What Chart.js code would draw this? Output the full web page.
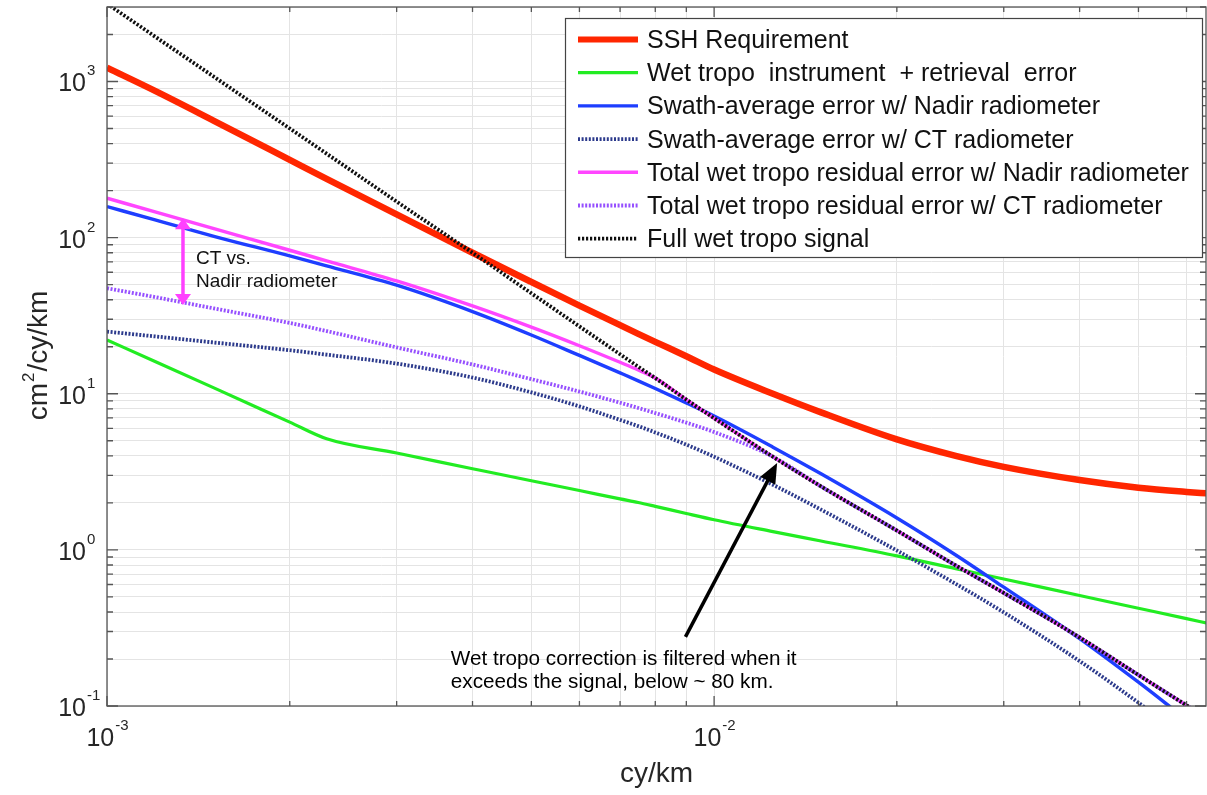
<!DOCTYPE html>
<html>
<head>
<meta charset="utf-8">
<title>Wet tropo error spectra</title>
<script src="https://cdn.jsdelivr.net/npm/chart.js@4.4.1/dist/chart.umd.min.js"></script>
<style>
  html, body { margin: 0; padding: 0; background: #fff; }
  #wrap { width: 1207px; height: 795px; }
</style>
</head>
<body>
<div id="wrap"><canvas id="spectra" width="1207" height="795"></canvas></div>
<script>
// wavenumber (cy/km) where each curve is sampled
const freq = [0.001, 0.0012, 0.0015, 0.002, 0.0023, 0.003, 0.004, 0.005, 0.006, 0.007, 0.0075,
  0.008, 0.009, 0.01, 0.0125, 0.015, 0.02, 0.025, 0.03, 0.04, 0.05, 0.06, 0.065];

// spectra in cm^2/cy/km
const sshRequirement = [1225, 870, 560, 315, 238, 141, 80, 52, 36.7, 27.5, 24.2,
  21.5, 17.4, 14.3, 10.0, 7.6, 5.1, 4.0, 3.4, 2.8, 2.5, 2.35, 2.3];
const wetInstrument = [22.1, 16.1, 10.9, 6.58, 5.15, 4.17, 3.31, 2.77, 2.40, 2.12, 2.01,
  1.90, 1.71, 1.56, 1.31, 1.14, 0.915, 0.758, 0.651, 0.51, 0.423, 0.363, 0.339];
const swathNadir = [158, 130, 102, 76.3, 65.9, 49.6, 33.6, 23.8, 17.6, 13.6, 12.1,
  10.8, 8.74, 7.2, 4.55, 3.07, 1.60, 0.927, 0.577, 0.27, 0.142, 0.082, 0.065];
const swathCT = [25.0, 23.3, 21.3, 19.0, 17.8, 15.6, 12.7, 10.2, 8.3, 6.8, 6.2,
  5.65, 4.72, 3.95, 2.61, 1.81, 0.99, 0.606, 0.398, 0.194, 0.105, 0.062, 0.049];
const totalNadir = [179, 146, 114, 83, 71, 52.8, 36.5, 26.7, 20.3, 15.9, 14.2,
  12.6, 9.18, 6.97, 3.95, 2.55, 1.33, 0.795, 0.53, 0.275, 0.158, 0.101, 0.083];
const totalCT = [47.4, 41.6, 35.2, 28.4, 25.2, 19.8, 15.4, 12.4, 10.33, 8.76, 8.11,
  7.52, 6.53, 5.69, 3.95, 2.55, 1.33, 0.795, 0.53, 0.275, 0.158, 0.101, 0.083];
const wetSignal = [3150, 1939, 1072, 500, 345, 170, 80, 44, 27, 17.9, 14.9,
  12.6, 9.18, 6.97, 3.95, 2.55, 1.33, 0.795, 0.53, 0.275, 0.158, 0.101, 0.083];

// decade tick labels (drawn as 10^exp)
const xDecades = [0.001, 0.01];
const xExponents = ['-3', '-2'];
const yDecades = [0.1, 1, 10, 100, 1000];
const yExponents = ['-1', '0', '1', '2', '3'];

const FONT = '"Liberation Sans", Arial, Helvetica, sans-serif';

function pts(vals) {
  return freq.map((f, i) => ({ x: f, y: vals[i] }));
}

// log ticks at 1..9 x 10^n, used for grid lines and tick marks
function logTicks(min, max) {
  const out = [];
  for (let e = Math.floor(Math.log10(min)); e <= Math.ceil(Math.log10(max)); e++) {
    for (let m = 1; m <= 9; m++) {
      const v = m * Math.pow(10, e);
      if (v >= min * 0.999 && v <= max * 1.001) out.push({ value: v, major: m === 1 });
    }
  }
  return out;
}

const series = [
  { label: 'SSH Requirement', data: sshRequirement, color: 'rgb(255,38,0)', width: 6.5, dash: [] },
  { label: 'Wet tropo  instrument  + retrieval  error', data: wetInstrument, color: 'rgb(34,236,34)', width: 3.2, dash: [] },
  { label: 'Swath-average error w/ Nadir radiometer', data: swathNadir, color: 'rgb(30,62,255)', width: 3.4, dash: [] },
  { label: 'Swath-average error w/ CT radiometer', data: swathCT, color: 'rgb(44,58,140)', width: 3.8, dash: [2, 1.6] },
  { label: 'Total wet tropo residual error w/ Nadir radiometer', data: totalNadir, color: 'rgb(255,70,255)', width: 3.4, dash: [] },
  { label: 'Total wet tropo residual error w/ CT radiometer', data: totalCT, color: 'rgb(150,80,255)', width: 3.8, dash: [2, 1.6] },
  { label: 'Full wet tropo signal', data: wetSignal, color: 'rgb(15,15,15)', width: 3.8, dash: [2.2, 1.8] }
];

// text drawn as "10" with a raised exponent
function drawPower(ctx, exp, x, y, align) {
  ctx.font = '25px ' + FONT;
  const wBase = ctx.measureText('10').width;
  ctx.font = '15px ' + FONT;
  const wExp = ctx.measureText(exp).width;
  const x0 = align === 'center' ? x - (wBase + wExp) / 2 : x - wBase;
  ctx.textAlign = 'left';
  ctx.textBaseline = 'alphabetic';
  ctx.font = '25px ' + FONT;
  ctx.fillText('10', x0, y);
  ctx.font = '15px ' + FONT;
  ctx.fillText(exp, x0 + wBase + 1, y - 16);
}

function arrowHead(ctx, x1, y1, x2, y2, len, half) {
  const ang = Math.atan2(y2 - y1, x2 - x1);
  ctx.beginPath();
  ctx.moveTo(x2, y2);
  ctx.lineTo(x2 - len * Math.cos(ang) + half * Math.sin(ang), y2 - len * Math.sin(ang) - half * Math.cos(ang));
  ctx.lineTo(x2 - len * Math.cos(ang) - half * Math.sin(ang), y2 - len * Math.sin(ang) + half * Math.cos(ang));
  ctx.closePath();
  ctx.fill();
}

// axis box, inward ticks, labels, notes and legend
const decor = {
  id: 'decor',
  afterDraw(chart) {
    const ctx = chart.ctx;
    const a = chart.chartArea;
    const xs = chart.scales.x, ys = chart.scales.y;
    ctx.save();

    ctx.strokeStyle = '#555';
    ctx.lineWidth = 1.3;
    ctx.setLineDash([]);
    xs.ticks.forEach(t => {
      const px = xs.getPixelForValue(t.value);
      const len = t.major ? 10 : 5;
      ctx.beginPath();
      ctx.moveTo(px, a.bottom); ctx.lineTo(px, a.bottom - len);
      ctx.moveTo(px, a.top); ctx.lineTo(px, a.top + len);
      ctx.stroke();
    });
    ys.ticks.forEach(t => {
      const py = ys.getPixelForValue(t.value);
      const len = t.major ? 11 : 6;
      ctx.beginPath();
      ctx.moveTo(a.left, py); ctx.lineTo(a.left + len, py);
      ctx.moveTo(a.right, py); ctx.lineTo(a.right - len, py);
      ctx.stroke();
    });
    ctx.strokeRect(a.left, a.top, a.right - a.left, a.bottom - a.top);

    // tick labels
    ctx.fillStyle = '#262626';
    xDecades.forEach((v, i) => drawPower(ctx, xExponents[i], xs.getPixelForValue(v), a.bottom + 40, 'center'));
    yDecades.forEach((v, i) => drawPower(ctx, yExponents[i], a.left - 21, ys.getPixelForValue(v) + 10, 'right'));

    // axis titles
    ctx.font = '28px ' + FONT;
    ctx.textAlign = 'center';
    ctx.fillText('cy/km', (a.left + a.right) / 2, 782);

    ctx.save();
    ctx.translate(47, (a.top + a.bottom) / 2);
    ctx.rotate(-Math.PI / 2);
    ctx.font = '28px ' + FONT;
    const w1 = ctx.measureText('cm').width;
    const w3 = ctx.measureText('/cy/km').width;
    ctx.font = '17px ' + FONT;
    const w2 = ctx.measureText('2').width;
    let x0 = -(w1 + w2 + w3) / 2;
    ctx.textAlign = 'left';
    ctx.font = '28px ' + FONT;
    ctx.fillText('cm', x0, 0);
    ctx.font = '17px ' + FONT;
    ctx.fillText('2', x0 + w1 + 1, -13);
    ctx.font = '28px ' + FONT;
    ctx.fillText('/cy/km', x0 + w1 + w2 + 2, 0);
    ctx.restore();

    // CT vs. Nadir bracket
    const mx = xs.getPixelForValue(0.001334);
    const myTop = ys.getPixelForValue(133), myBot = ys.getPixelForValue(37);
    ctx.strokeStyle = 'rgb(255,64,255)';
    ctx.fillStyle = 'rgb(255,64,255)';
    ctx.lineWidth = 3.5;
    ctx.beginPath();
    ctx.moveTo(mx, myTop + 8); ctx.lineTo(mx, myBot - 8);
    ctx.stroke();
    arrowHead(ctx, mx, myBot, mx, myTop, 11, 8);
    arrowHead(ctx, mx, myTop, mx, myBot, 11, 8);
    ctx.fillStyle = '#111';
    ctx.font = '19px ' + FONT;
    ctx.textAlign = 'left';
    ctx.fillText('CT vs.', mx + 13, ys.getPixelForValue(67.8));
    ctx.fillText('Nadir radiometer', mx + 13, ys.getPixelForValue(48.3));

    // filtering note with arrow
    const ax1 = xs.getPixelForValue(0.00897), ay1 = ys.getPixelForValue(0.277);
    const ax2 = xs.getPixelForValue(0.0127), ay2 = ys.getPixelForValue(3.6);
    ctx.strokeStyle = '#000';
    ctx.fillStyle = '#000';
    ctx.lineWidth = 3.5;
    const ang = Math.atan2(ay2 - ay1, ax2 - ax1);
    ctx.beginPath();
    ctx.moveTo(ax1, ay1);
    ctx.lineTo(ax2 - 16 * Math.cos(ang), ay2 - 16 * Math.sin(ang));
    ctx.stroke();
    arrowHead(ctx, ax1, ay1, ax2, ay2, 20, 8.5);
    ctx.font = '20.7px ' + FONT;
    const nx = xs.getPixelForValue(0.003684);
    ctx.fillText('Wet tropo correction is filtered when it', nx, ys.getPixelForValue(0.1824));
    ctx.fillText('exceeds the signal, below ~ 80 km.', nx, ys.getPixelForValue(0.1299));

    // legend
    const lb = { left: 565, top: 18, right: 1202, bottom: 257 };
    ctx.fillStyle = '#fff';
    ctx.fillRect(lb.left, lb.top, lb.right - lb.left, lb.bottom - lb.top);
    ctx.strokeStyle = '#444';
    ctx.lineWidth = 1.2;
    ctx.strokeRect(lb.left + 0.5, lb.top + 0.5, lb.right - lb.left, lb.bottom - lb.top);
    ctx.font = '25px ' + FONT;
    chart.data.datasets.forEach((ds, i) => {
      const cy = 39.5 + i * 33.2;
      ctx.strokeStyle = ds.borderColor;
      ctx.lineWidth = Math.min(ds.borderWidth, 6);
      ctx.setLineDash(ds.borderDash);
      ctx.beginPath();
      ctx.moveTo(578, cy); ctx.lineTo(638, cy);
      ctx.stroke();
      ctx.setLineDash([]);
      ctx.fillStyle = '#111';
      ctx.fillText(ds.label, 647, cy + 8.5);
    });
    ctx.restore();
  }
};

const ctx = document.getElementById('spectra').getContext('2d');
const spectraChart = new Chart(ctx, {
  type: 'line',
  data: {
    datasets: series.map((s, i) => ({
      label: s.label,
      data: pts(s.data),
      borderColor: s.color,
      backgroundColor: s.color,
      borderWidth: s.width,
      borderDash: s.dash,
      pointRadius: 0,
      fill: false,
      cubicInterpolationMode: 'monotone',
      clip: 0,
      order: series.length - i
    }))
  },
  options: {
    responsive: false,
    animation: false,
    events: [],
    layout: { padding: { left: 107, right: 1, top: 7, bottom: 89 } },
    scales: {
      x: {
        type: 'logarithmic',
        min: 0.001,
        max: 0.0646,
        afterBuildTicks: axis => { axis.ticks = logTicks(axis.min, axis.max); },
        ticks: { display: false },
        grid: { color: '#e4e4e4', lineWidth: 1, drawTicks: false },
        border: { display: false }
      },
      y: {
        type: 'logarithmic',
        min: 0.1,
        max: 3000,
        afterBuildTicks: axis => { axis.ticks = logTicks(axis.min, axis.max); },
        ticks: { display: false },
        grid: { color: '#e4e4e4', lineWidth: 1, drawTicks: false },
        border: { display: false }
      }
    },
    plugins: {
      legend: { display: false },
      tooltip: { enabled: false }
    }
  },
  plugins: [decor]
});
</script>
</body>
</html>
